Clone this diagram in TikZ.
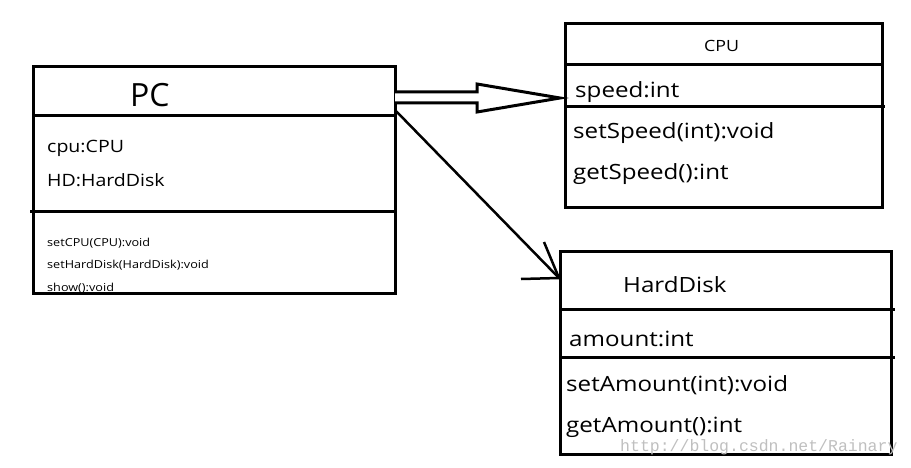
\documentclass[tikz,border=0pt]{standalone}
\usepackage{fontspec}
\setmainfont{Open Sans}[FakeStretch=1.15]
\newfontfamily\plainfont{Open Sans}
\newfontfamily\markfont{Liberation Mono}
\usetikzlibrary{calc}
\tikzset{
  umlbox/.style={draw, line width=3pt, anchor=north west, inner sep=0pt, outer sep=0pt},
  member/.style={anchor=base west, inner sep=0pt},
  bar/.style={line width=3pt},
  big/.style={font=\fontsize{21}{21}\selectfont},
  mid/.style={font=\fontsize{17}{17}\selectfont},
  tiny/.style={font=\fontsize{11}{11}\selectfont},
}
\begin{document}
\begin{tikzpicture}[x=1pt,y=-1pt]
  \useasboundingbox (0,0) rectangle (911,468);
  \path (130,107) node[member,font=\plainfont\fontsize{32}{32}\selectfont] (pcname) {PC};
  \path (47,153) node[member,mid] (pccpu) {cpu:CPU};
  \path (47,186) node[member,mid] (pchd) {HD:HardDisk};
  \path (47,246) node[member,tiny] (pcset1) {setCPU(CPU):void};
  \path (47,268) node[member,tiny] (pcset2) {setHardDisk(HardDisk):void};
  \path (47,291) node[member,tiny] (pcshow) {show():void};
  \node[umlbox, minimum width=362pt, minimum height=226pt] (pc) at (33,67) {};
  \draw[bar] (33,116) -- (395,116);
  \draw[bar] (30,212) -- (395,212);
  \path (704,52) node[member,font=\fontsize{15.5}{15.5}\selectfont] (cpuname) {CPU};
  \path (575,98) node[member,big] (cpuspeed) {speed:int};
  \path (573,139) node[member,big] (cpuset) {setSpeed(int):void};
  \path (573,180) node[member,big] (cpuget) {getSpeed():int};
  \node[umlbox, minimum width=317pt, minimum height=184pt] (cpu) at (565,24) {};
  \draw[bar] (565,65) -- (882,65);
  \draw[bar] (565,107) -- (885,107);
  \path (623,292) node[member,big] (hdname) {HardDisk};
  \path (569,346) node[member,big] (hdamount) {amount:int};
  \path (566,391) node[member,big] (hdset) {setAmount(int):void};
  \path (566,432) node[member,big] (hdget) {getAmount():int};
  \node[umlbox, minimum width=331pt, minimum height=203pt] (hd) at (560,251) {};
  \draw[bar] (560,309) -- (895,309);
  \draw[bar] (560,357) -- (895,357);
  \coordinate (cputip) at ($(cpu.north west)+(-5,74)$);
  \draw[bar, fill=white] ($(cputip)+(-165,-6)$) -- ($(cputip)+(-83,-6)$) -- ($(cputip)+(-83,-14)$)
    -- (cputip) -- ($(cputip)+(-83,14)$) -- ($(cputip)+(-83,5)$) -- ($(cputip)+(-165,5)$);
  \coordinate (pcfoot) at ($(pc.north east)+(0,43)$);
  \coordinate (hdtip) at ($(hd.north west)+(-1,27)$);
  \draw[line width=2.5pt] (pcfoot) -- (hdtip);
  \draw[line width=2.5pt] ($(hdtip)+(-15,-36)$) -- (hdtip) -- ($(hdtip)+(-38,1)$);
  \path (620,451) node[member, text=black!25, font=\markfont\fontsize{16.5}{16.5}\selectfont] (mark) {http://blog.csdn.net/Rainary};
\end{tikzpicture}
\end{document}
